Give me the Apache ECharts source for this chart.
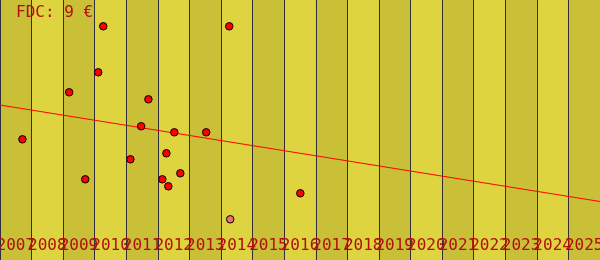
<!DOCTYPE html>
<html><head><meta charset="utf-8">
<script src="https://cdn.jsdelivr.net/npm/echarts@6/dist/echarts.min.js"></script>
<style>html,body{margin:0;padding:0;background:#fff}#c{width:600px;height:260px}</style>
</head><body><div id="c"></div>
<script>
var years = ['2007','2008','2009','2010','2011','2012','2013','2014','2015','2016','2017','2018','2019','2020','2021','2022','2023','2024','2025'];
var saleYears = [2007.21,2008.69,2009.61,2009.77,2011.20,2010.97,2012.02,2009.20,2010.63,2011.77,2012.21,2011.64,2011.83,2013.03,2013.76,2016.01];
var salePrices = [12.07,16.77,18.77,23.37,16.07,13.37,12.77,8.07,10.07,10.67,8.67,8.07,7.37,12.77,23.37,6.67];
var highlightYear = [2013.79];
var highlightPrice = [4.07];
var trendYears = [2006.5, 2025.5];
var trendPrices = [15.5, 5.85];
var titleText = 'FDC: 9 €';

var font = 'DejaVu Sans Mono';
var chart = echarts.init(document.getElementById('c'), null, {renderer:'canvas'});
chart.setOption({
  animation:false,
  backgroundColor:'#ddd43f',
  title:{text:titleText,left:16,top:5,padding:0,textStyle:{fontFamily:font,fontSize:16,fontWeight:'normal',color:'#b01010'}},
  grid:{left:0,right:0,top:0,bottom:0,containLabel:false,outerBoundsMode:'none',show:true,borderColor:'#1a1a1a',borderWidth:1,backgroundColor:'transparent'},
  xAxis:[{
    type:'category',data:years,boundaryGap:true,
    axisLine:{show:false},axisTick:{show:false},
    axisLabel:{inside:true,interval:0,margin:6,fontFamily:font,fontSize:16,color:'#b01010',hideOverlap:false},
    splitLine:{show:true,interval:0,lineStyle:{color:'#2e2e3c',width:1}},
    splitArea:{show:true,interval:0,areaStyle:{color:['#c9c038','#ddd43f']}},
    z:0
  },{
    type:'value',min:2006.5,max:2025.5,show:false
  }],
  yAxis:{type:'value',min:0,max:26,show:false,splitLine:{show:false}},
  series:[{
    type:'line',xAxisIndex:1,data:trendYears.map(function(y,i){return [y,trendPrices[i]];}),
    symbol:'none',lineStyle:{color:'#ff0000',width:1},z:2
  },{
    type:'scatter',xAxisIndex:1,data:saleYears.map(function(y,i){return [y,salePrices[i]];}),
    symbol:'circle',symbolSize:7.5,itemStyle:{color:'#ff0000',borderColor:'#000',borderWidth:1,opacity:1},z:3
  },{
    type:'scatter',xAxisIndex:1,data:highlightYear.map(function(y,i){return [y,highlightPrice[i]];}),
    symbol:'circle',symbolSize:7.5,itemStyle:{color:'#f07070',borderColor:'#000',borderWidth:1,opacity:1},z:3
  }]
});
</script></body></html>
